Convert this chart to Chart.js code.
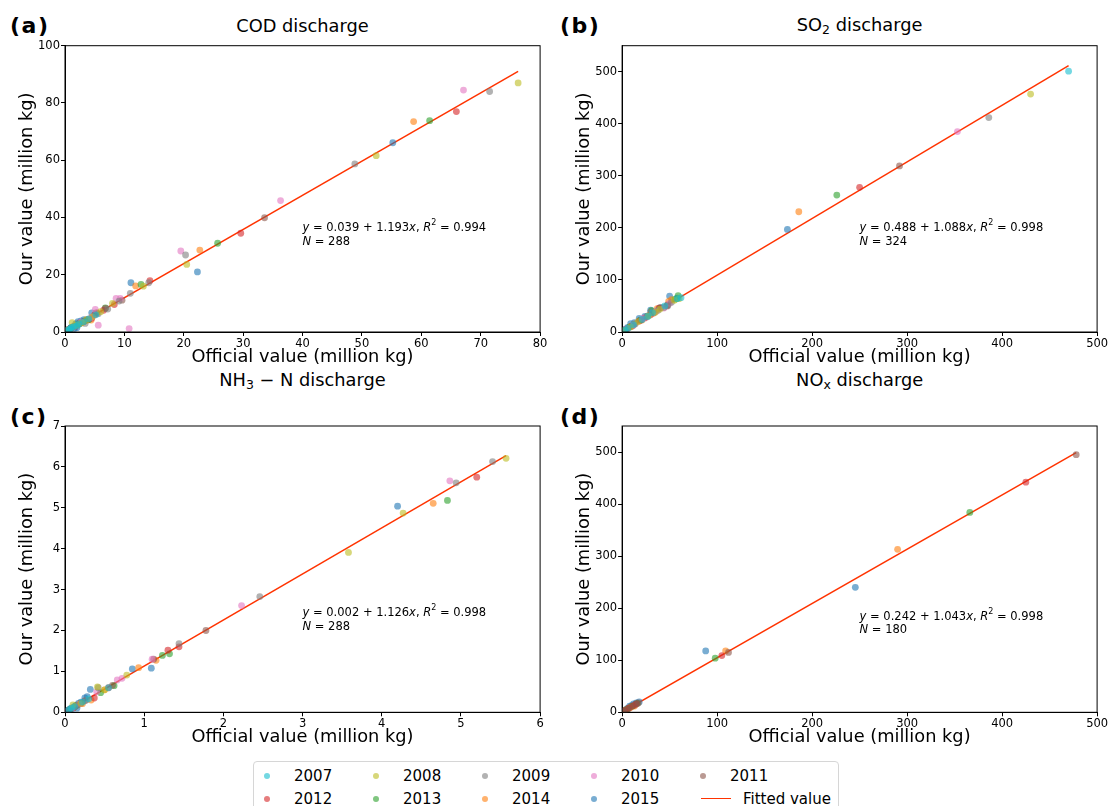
<!DOCTYPE html>
<html>
<head>
<meta charset="utf-8">
<script src="https://cdn.jsdelivr.net/npm/chart.js@4.4.0/dist/chart.umd.min.js"></script>
<style>
  body { margin: 0; background: #fff; width: 1109px; height: 806px; position: relative; overflow: hidden;
         font-family: 'DejaVu Sans', sans-serif; color: #000; }
  canvas.panel { position: absolute; }
  .lbl { position: absolute; font-weight: bold; font-size: 22px; letter-spacing: 1.5px; transform: translateY(-50%); }
  .ttl { position: absolute; font-size: 17.8px; transform: translate(-50%, -50%); white-space: nowrap; }
  .ttl sub { font-size: 12.5px; vertical-align: -3px; }
  .legend { position: absolute; left: 253px; top: 761px; width: 586px; height: 60px; box-sizing: border-box;
            border: 1px solid #d6d6d6; border-radius: 4px; background: #fff; }
  .lg-dot { position: absolute; width: 6px; height: 6px; border-radius: 50%; transform: translate(-50%, -50%); }
  .lg-txt { position: absolute; font-size: 15px; transform: translateY(-50%); white-space: nowrap; }
  .lg-line { position: absolute; height: 1.4px; background: #ff3300; }
</style>
</head>
<body>
<div class="lbl" style="left:10px;top:25px">(a)</div>
<div class="lbl" style="left:560px;top:25px">(b)</div>
<div class="lbl" style="left:10px;top:416px">(c)</div>
<div class="lbl" style="left:560px;top:416px">(d)</div>
<div class="ttl" style="left:302.5px;top:25px">COD discharge</div>
<div class="ttl" style="left:859.6px;top:25px">SO<sub>2</sub> discharge</div>
<div class="ttl" style="left:302.5px;top:380px">NH<sub>3</sub> &minus; N discharge</div>
<div class="ttl" style="left:859.6px;top:380px">NO<sub>x</sub> discharge</div>

<canvas class="panel" id="chartA"></canvas>
<canvas class="panel" id="chartB"></canvas>
<canvas class="panel" id="chartC"></canvas>
<canvas class="panel" id="chartD"></canvas>
<div class="legend" id="legend"></div>

<script>
const years = ['2007', '2008', '2009', '2010', '2011', '2012', '2013', '2014', '2015'];
const colors = ['#17becf', '#bcbd22', '#7f7f7f', '#e377c2', '#8c564b', '#d62728', '#2ca02c', '#ff7f0e', '#1f77b4'];

// official value vs our value, one list per year (2007..2015)
const codData = [
  [[0.4,0.5],[0.9,1.1],[1.5,1.9],[2.3,2.8],[3.1,3.6],[1.1,1.6],[2.0,2.2],[4.0,4.6],[0.7,0.9],[5.2,6.0]],
  [[76.3,87.0],[52.4,61.6],[20.5,23.6],[13.2,16.0],[8.0,10.0],[1.2,3.3],[0.6,0.8],[2.8,3.2],[3.6,4.1],[1.9,2.4],[6.0,7.1],[4.6,5.3]],
  [[71.5,84.0],[48.8,58.7],[20.3,26.9],[14.1,17.2],[11.0,13.5],[9.1,10.8],[3.4,3.0],[1.4,1.8],[0.8,1.0],[2.5,2.9],[5.6,6.4],[7.2,8.0]],
  [[67.1,84.5],[36.3,45.9],[19.5,28.3],[8.6,11.7],[9.3,11.7],[10.8,1.2],[5.6,2.4],[5.1,7.9],[1.3,1.7],[2.7,3.5],[4.4,5.1],[0.6,0.9]],
  [[33.6,39.9],[9.6,11.1],[5.3,6.8],[2.4,3.1],[1.0,1.4],[3.8,4.2],[6.8,8.2],[0.5,0.7]],
  [[65.9,77.0],[29.6,34.5],[14.3,17.9],[8.3,9.6],[5.0,6.0],[3.2,3.7],[1.8,2.1],[0.7,1.0],[4.5,4.8],[6.5,7.6]],
  [[61.4,73.8],[25.7,31.0],[12.8,16.6],[6.8,8.4],[4.0,4.3],[2.4,2.8],[1.1,1.4],[0.4,0.6],[3.3,3.9]],
  [[58.7,73.5],[22.7,28.6],[11.9,16.1],[4.4,4.2],[5.4,6.6],[2.9,3.3],[1.6,2.0],[0.8,1.1],[3.7,4.4]],
  [[55.2,66.1],[22.3,21.0],[11.1,17.2],[4.5,6.7],[3.2,4.3],[2.2,3.6],[1.8,2.8],[1.4,1.9],[1.0,1.5],[0.6,0.8],[0.3,0.4],[2.7,3.9],[0.9,1.1],[1.6,1.2],[2.0,1.5]]
];
const so2Data = [
  [[470,501],[58,64],[45,50],[32,37],[21,24],[12,14],[6,7],[62,66],[27,30],[3,3.5]],
  [[430,457],[55,61],[40,44],[28,31],[17,20],[9,10],[2.5,3],[60,64],[35,38]],
  [[386,412],[52,57],[38,42],[26,29],[14,16],[7,8],[2,2.3],[30,38],[48,50]],
  [[353,385],[50,55],[36,40],[22,26],[12,13],[5,6],[44,46],[1.5,1.8]],
  [[292,319],[48,52],[34,38],[20,23],[11,12],[4,5],[40,47],[27,31]],
  [[250,278],[47,50],[39,46],[30,33],[18,21],[10,11],[3.5,4],[24,27]],
  [[226,263],[59,70],[44,47],[31,41],[19,23],[8,10],[3,3.3],[56,63]],
  [[186,231],[52,62],[49,59],[33,36],[21,23],[13,15],[5,5.5],[37,45]],
  [[174,197],[50,69],[30,42],[24,30],[18,26],[13,18],[9,16],[6,9],[4,6],[2,3],[1,1.5],[58,65],[41,47]]
];
const nh3Data = [
  [[0.05,0.06],[0.12,0.14],[0.22,0.25],[0.3,0.33],[0.55,0.6],[0.08,0.1]],
  [[5.57,6.21],[4.27,4.87],[3.58,3.91],[0.78,0.91],[0.41,0.62],[0.1,0.18],[0.2,0.22],[0.5,0.55]],
  [[5.40,6.13],[4.94,5.61],[2.46,2.83],[1.44,1.68],[0.42,0.6],[0.27,0.3],[0.15,0.17],[0.06,0.07]],
  [[4.86,5.66],[2.23,2.61],[1.10,1.30],[0.66,0.79],[0.72,0.83],[0.4,0.5],[0.18,0.2],[0.09,0.1]],
  [[1.78,2.0],[1.12,1.3],[0.6,0.66],[0.25,0.28],[0.13,0.15],[0.04,0.05]],
  [[5.20,5.75],[1.44,1.60],[1.30,1.52],[0.37,0.35],[0.55,0.6],[0.2,0.22],[0.1,0.11]],
  [[4.83,5.18],[1.32,1.43],[1.23,1.39],[0.45,0.48],[0.62,0.65],[0.16,0.18],[0.07,0.08]],
  [[4.65,5.11],[1.15,1.27],[0.93,1.09],[0.33,0.30],[0.5,0.55],[0.22,0.21],[0.11,0.12]],
  [[4.20,5.04],[1.09,1.08],[0.85,1.06],[0.32,0.56],[0.25,0.35],[0.2,0.25],[0.17,0.22],[0.14,0.17],[0.12,0.13],[0.1,0.09],[0.08,0.1],[0.06,0.07],[0.04,0.05],[0.03,0.03],[0.02,0.02],[0.15,0.1],[0.28,0.38]]
];
const noxData = [
  [],
  [],
  [],
  [],
  [[478,495],[112,115],[14,15],[9,10],[5,5.5],[2,2.2],[17,18]],
  [[425,442],[105,109],[12,13],[7,8],[3,3.3],[15,16]],
  [[366,384],[98,104],[11,12],[6,6.5],[2.5,2.8],[16,17]],
  [[290,313],[109,118],[10,11],[13,12],[4,4.4],[8,8.5]],
  [[245.5,240],[88,118],[18,20],[15,18],[12,16],[10,13],[8,12],[6,8],[4,5],[2,3],[1,1.5]]
];

// regression results printed on each panel
const fitIntercepts = [0.039, 0.488, 0.002, 0.242];
const fitSlopes = [1.193, 1.088, 1.126, 1.043];
const fitR2 = [0.994, 0.998, 0.998, 0.998];
const sampleN = [288, 324, 288, 180];
const fitXEnd = [76.3, 470, 5.57, 478];

// axis ranges and tick steps
const xMax = [80, 500, 6, 500];
const xStep = [10, 100, 1, 100];
const yMax = [100, 550, 7, 550];
const yStep = [20, 100, 1, 100];

const allData = [codData, so2Data, nh3Data, noxData];

// plot boxes in page pixels: left, top, right, bottom
const boxes = [
  [65.0, 45.7, 540.1, 332],
  [622.1, 45.7, 1097.1, 332],
  [65.0, 426, 540.1, 712.3],
  [622.1, 426, 1097.1, 712.3]
];
const noteY = [[0.363, 0.316], [0.363, 0.316], [0.346, 0.299], [0.334, 0.287]];

const FONT = "'DejaVu Sans', sans-serif";
const FIT_COLOR = '#ff3300';

function fade(hex, a) {
  const n = parseInt(hex.slice(1), 16);
  return 'rgba(' + (n >> 16) + ',' + ((n >> 8) & 255) + ',' + (n & 255) + ',' + a + ')';
}

const framePlugin = {
  id: 'frame',
  afterDatasetsDraw(chart) {
    const { ctx, chartArea: a } = chart;
    ctx.save();
    ctx.strokeStyle = '#000';
    ctx.lineWidth = 1;
    ctx.strokeRect(a.left, a.top, a.right - a.left, a.bottom - a.top);
    ctx.restore();
  }
};

const notePlugin = {
  id: 'note',
  afterDraw(chart, args, opts) {
    const i = opts.idx;
    const { ctx, chartArea: a } = chart;
    const h = a.bottom - a.top;
    const x0 = a.left + 0.5 * (a.right - a.left);
    const fs = 11.5;
    const reg = fs + 'px ' + FONT, ita = 'italic ' + fs + 'px ' + FONT, sup = '8px ' + FONT;
    const line1 = [
      ['y', ita, 0], [' = ' + fitIntercepts[i].toFixed(3) + ' + ' + fitSlopes[i].toFixed(3), reg, 0],
      ['x', ita, 0], [', ', reg, 0], ['R', ita, 0], ['2', sup, -5], [' = ' + fitR2[i].toFixed(3), reg, 0]
    ];
    const line2 = [['N', ita, 0], [' = ' + sampleN[i], reg, 0]];
    ctx.save();
    ctx.fillStyle = '#000';
    ctx.textBaseline = 'middle';
    [[line1, noteY[i][0]], [line2, noteY[i][1]]].forEach(([segs, fy]) => {
      let x = x0;
      const y = a.bottom - fy * h;
      segs.forEach(([t, f, dy]) => {
        ctx.font = f;
        ctx.fillText(t, x, y + dy);
        x += ctx.measureText(t).width;
      });
    });
    ctx.restore();
  }
};

function createPanel(i, canvasId) {
  const [L, T, R, B] = boxes[i];
  const cLeft = Math.round(L - 62), cTop = Math.round(T - 16);
  const cRight = Math.round(R + 30), cBottom = Math.round(B + 43);
  const canvas = document.getElementById(canvasId);
  canvas.width = cRight - cLeft;
  canvas.height = cBottom - cTop;
  canvas.style.left = cLeft + 'px';
  canvas.style.top = cTop + 'px';

  const datasets = [];
  allData[i].forEach((pts, k) => {
    if (!pts.length) return;
    datasets.push({
      type: 'scatter',
      label: years[k],
      data: pts.map(p => ({ x: p[0], y: p[1] })),
      backgroundColor: fade(colors[k], 0.6),
      borderWidth: 0,
      pointRadius: 3.4,
      clip: 0
    });
  });
  datasets.push({
    type: 'line',
    label: 'Fitted value',
    data: [0, fitXEnd[i]].map(x => ({ x: x, y: fitIntercepts[i] + fitSlopes[i] * x })),
    borderColor: FIT_COLOR,
    borderWidth: 1.5,
    pointRadius: 0,
    fill: false,
    clip: 0
  });

  const tickFont = { family: FONT, size: 11.5 };
  const titleFont = { family: FONT, size: 17.8 };

  new Chart(canvas, {
    data: { datasets: datasets },
    options: {
      responsive: false,
      animation: false,
      layout: { padding: { left: 0, top: T - cTop, right: cRight - R, bottom: 0 } },
      plugins: { legend: { display: false }, tooltip: { enabled: false }, note: { idx: i } },
      scales: {
        x: {
          type: 'linear', min: 0, max: xMax[i],
          ticks: { stepSize: xStep[i], autoSkip: false, maxRotation: 0, font: tickFont, color: '#000', padding: 1 },
          grid: { drawOnChartArea: false, tickLength: 4, color: '#000' },
          border: { color: '#000' },
          title: { display: true, text: 'Official value (million kg)', font: titleFont, color: '#000', padding: { top: 0, bottom: 7.3 } },
          afterFit: s => { s.height = cBottom - B; }
        },
        y: {
          type: 'linear', min: 0, max: yMax[i],
          ticks: { stepSize: yStep[i], includeBounds: false, font: tickFont, color: '#000', padding: 1 },
          grid: { drawOnChartArea: false, tickLength: 4, color: '#000' },
          border: { color: '#000' },
          title: { display: true, text: 'Our value (million kg)', font: titleFont, color: '#000', padding: { top: 13.5, bottom: 0 } },
          afterFit: s => { s.width = L - cLeft; }
        }
      }
    },
    plugins: [framePlugin, notePlugin]
  });
}

createPanel(0, 'chartA');
createPanel(1, 'chartB');
createPanel(2, 'chartC');
createPanel(3, 'chartD');

// shared legend under the panels
const legend = document.getElementById('legend');
let html = '';
years.forEach((yr, k) => {
  const col = k % 5, row = Math.floor(k / 5);
  const cx = 266 + col * 109 - 253, cy = 775 + row * 22.5 - 761;
  html += '<div class="lg-dot" style="left:' + cx + 'px;top:' + cy + 'px;background:' + fade(colors[k], 0.6) + '"></div>';
  html += '<div class="lg-txt" style="left:' + (cx + 27) + 'px;top:' + cy + 'px">' + yr + '</div>';
});
html += '<div class="lg-line" style="left:' + (700 - 253) + 'px;top:' + (797 - 761) + 'px;width:30px"></div>';
html += '<div class="lg-txt" style="left:' + (742 - 253) + 'px;top:' + (797.5 - 761) + 'px">Fitted value</div>';
legend.innerHTML = html;
</script>
</body>
</html>
